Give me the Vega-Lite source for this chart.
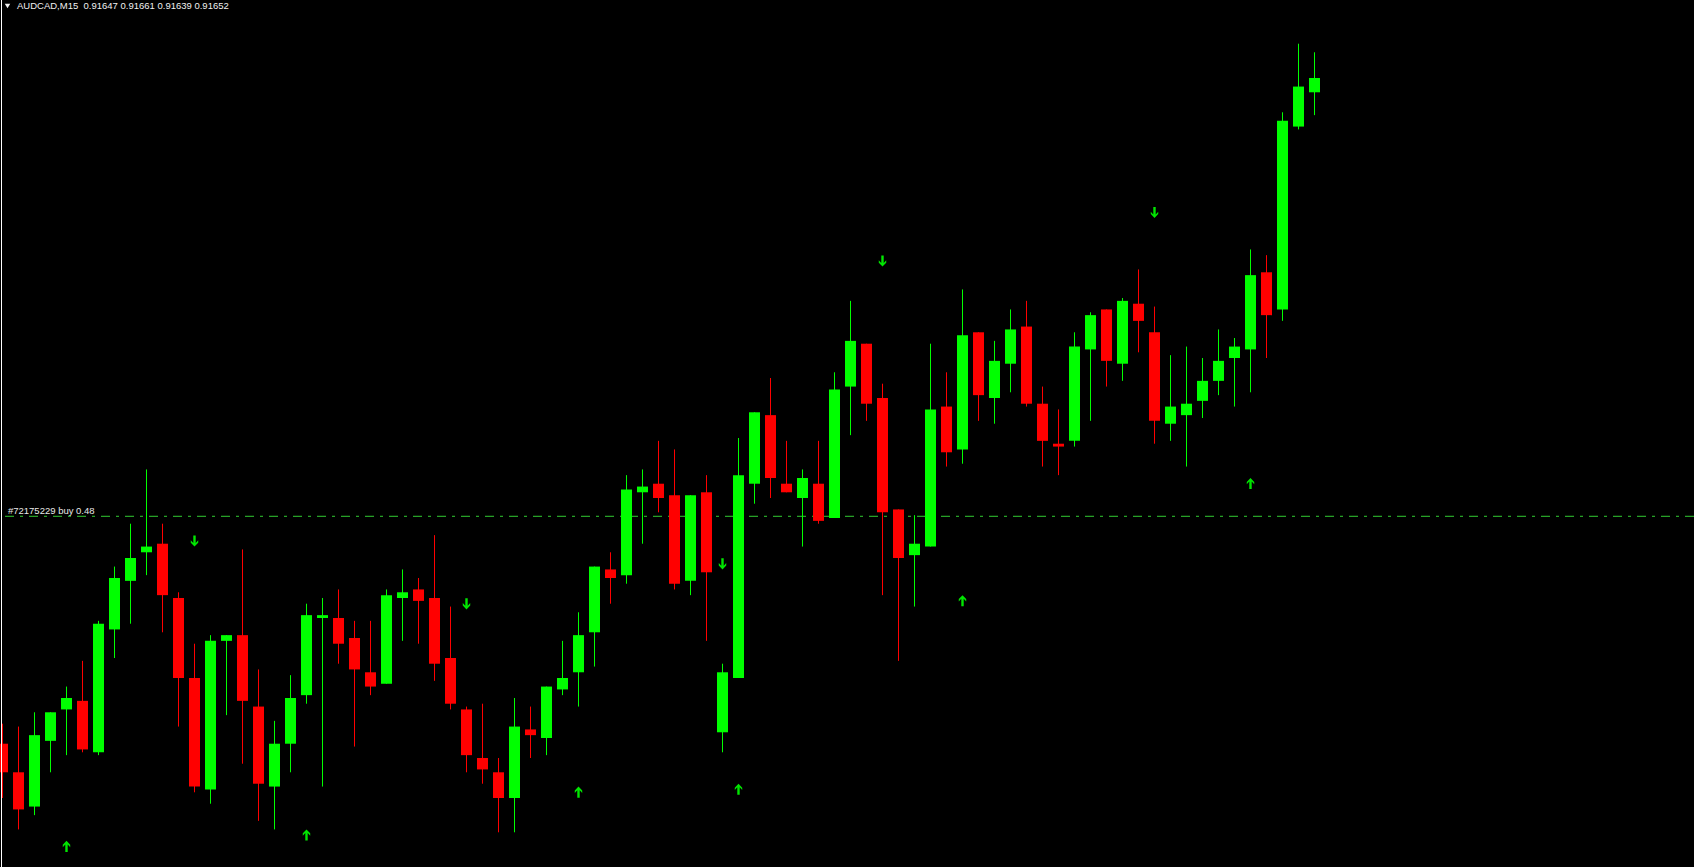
{
  "$schema": "https://vega.github.io/schema/vega-lite/v6.json",
  "width": 1694,
  "height": 867,
  "autosize": {"type": "none"},
  "padding": 0,
  "background": "#000000",
  "config": {"view": {"stroke": null}, "scale": {"continuousPadding": 0}},
  "datasets": {
    "candles": [
      {"bar":0,"open":0.91419,"high":0.91426,"low":0.91400,"close":0.91409},
      {"bar":1,"open":0.91409,"high":0.91425,"low":0.91389,"close":0.91396},
      {"bar":2,"open":0.91397,"high":0.91430,"low":0.91394,"close":0.91422},
      {"bar":3,"open":0.91420,"high":0.91430,"low":0.91409,"close":0.91430},
      {"bar":4,"open":0.91431,"high":0.91439,"low":0.91415,"close":0.91435},
      {"bar":5,"open":0.91434,"high":0.91448,"low":0.91416,"close":0.91417},
      {"bar":6,"open":0.91416,"high":0.91462,"low":0.91415,"close":0.91461},
      {"bar":7,"open":0.91459,"high":0.91481,"low":0.91449,"close":0.91477},
      {"bar":8,"open":0.91476,"high":0.91496,"low":0.91461,"close":0.91484},
      {"bar":9,"open":0.91486,"high":0.91515,"low":0.91478,"close":0.91488},
      {"bar":10,"open":0.91489,"high":0.91496,"low":0.91458,"close":0.91471},
      {"bar":11,"open":0.91470,"high":0.91472,"low":0.91425,"close":0.91442},
      {"bar":12,"open":0.91442,"high":0.91454,"low":0.91402,"close":0.91404},
      {"bar":13,"open":0.91403,"high":0.91457,"low":0.91398,"close":0.91455},
      {"bar":14,"open":0.91455,"high":0.91457,"low":0.91429,"close":0.91457},
      {"bar":15,"open":0.91457,"high":0.91487,"low":0.91412,"close":0.91434},
      {"bar":16,"open":0.91432,"high":0.91445,"low":0.91392,"close":0.91405},
      {"bar":17,"open":0.91404,"high":0.91427,"low":0.91389,"close":0.91419},
      {"bar":18,"open":0.91419,"high":0.91443,"low":0.91409,"close":0.91435},
      {"bar":19,"open":0.91436,"high":0.91468,"low":0.91433,"close":0.91464},
      {"bar":20,"open":0.91463,"high":0.91470,"low":0.91404,"close":0.91464},
      {"bar":21,"open":0.91463,"high":0.91473,"low":0.91447,"close":0.91454},
      {"bar":22,"open":0.91456,"high":0.91462,"low":0.91418,"close":0.91445},
      {"bar":23,"open":0.91444,"high":0.91462,"low":0.91436,"close":0.91439},
      {"bar":24,"open":0.91440,"high":0.91473,"low":0.91440,"close":0.91471},
      {"bar":25,"open":0.91470,"high":0.91480,"low":0.91455,"close":0.91472},
      {"bar":26,"open":0.91473,"high":0.91477,"low":0.91454,"close":0.91469},
      {"bar":27,"open":0.91470,"high":0.91492,"low":0.91441,"close":0.91447},
      {"bar":28,"open":0.91449,"high":0.91467,"low":0.91431,"close":0.91433},
      {"bar":29,"open":0.91431,"high":0.91432,"low":0.91409,"close":0.91415},
      {"bar":30,"open":0.91414,"high":0.91433,"low":0.91405,"close":0.91410},
      {"bar":31,"open":0.91409,"high":0.91414,"low":0.91388,"close":0.91400},
      {"bar":32,"open":0.91400,"high":0.91435,"low":0.91388,"close":0.91425},
      {"bar":33,"open":0.91424,"high":0.91432,"low":0.91414,"close":0.91422},
      {"bar":34,"open":0.91421,"high":0.91439,"low":0.91415,"close":0.91439},
      {"bar":35,"open":0.91438,"high":0.91455,"low":0.91436,"close":0.91442},
      {"bar":36,"open":0.91444,"high":0.91465,"low":0.91432,"close":0.91457},
      {"bar":37,"open":0.91458,"high":0.91481,"low":0.91446,"close":0.91481},
      {"bar":38,"open":0.91480,"high":0.91486,"low":0.91468,"close":0.91477},
      {"bar":39,"open":0.91478,"high":0.91513,"low":0.91475,"close":0.91508},
      {"bar":40,"open":0.91507,"high":0.91515,"low":0.91489,"close":0.91509},
      {"bar":41,"open":0.91510,"high":0.91525,"low":0.91500,"close":0.91505},
      {"bar":42,"open":0.91506,"high":0.91522,"low":0.91473,"close":0.91475},
      {"bar":43,"open":0.91476,"high":0.91506,"low":0.91471,"close":0.91506},
      {"bar":44,"open":0.91507,"high":0.91513,"low":0.91455,"close":0.91479},
      {"bar":45,"open":0.91423,"high":0.91447,"low":0.91416,"close":0.91444},
      {"bar":46,"open":0.91442,"high":0.91526,"low":0.91442,"close":0.91513},
      {"bar":47,"open":0.91510,"high":0.91535,"low":0.91503,"close":0.91535},
      {"bar":48,"open":0.91534,"high":0.91547,"low":0.91505,"close":0.91512},
      {"bar":49,"open":0.91510,"high":0.91525,"low":0.91507,"close":0.91507},
      {"bar":50,"open":0.91505,"high":0.91515,"low":0.91488,"close":0.91512},
      {"bar":51,"open":0.91510,"high":0.91525,"low":0.91496,"close":0.91497},
      {"bar":52,"open":0.91498,"high":0.91549,"low":0.91498,"close":0.91543},
      {"bar":53,"open":0.91544,"high":0.91574,"low":0.91527,"close":0.91560},
      {"bar":54,"open":0.91559,"high":0.91559,"low":0.91532,"close":0.91538},
      {"bar":55,"open":0.91540,"high":0.91545,"low":0.91471,"close":0.91500},
      {"bar":56,"open":0.91501,"high":0.91501,"low":0.91448,"close":0.91484},
      {"bar":57,"open":0.91485,"high":0.91499,"low":0.91467,"close":0.91489},
      {"bar":58,"open":0.91488,"high":0.91559,"low":0.91488,"close":0.91536},
      {"bar":59,"open":0.91537,"high":0.91549,"low":0.91516,"close":0.91521},
      {"bar":60,"open":0.91522,"high":0.91578,"low":0.91517,"close":0.91562},
      {"bar":61,"open":0.91563,"high":0.91563,"low":0.91532,"close":0.91541},
      {"bar":62,"open":0.91540,"high":0.91560,"low":0.91531,"close":0.91553},
      {"bar":63,"open":0.91552,"high":0.91571,"low":0.91542,"close":0.91564},
      {"bar":64,"open":0.91565,"high":0.91574,"low":0.91537,"close":0.91538},
      {"bar":65,"open":0.91538,"high":0.91544,"low":0.91516,"close":0.91525},
      {"bar":66,"open":0.91524,"high":0.91536,"low":0.91513,"close":0.91523},
      {"bar":67,"open":0.91525,"high":0.91563,"low":0.91523,"close":0.91558},
      {"bar":68,"open":0.91557,"high":0.91570,"low":0.91532,"close":0.91569},
      {"bar":69,"open":0.91571,"high":0.91571,"low":0.91544,"close":0.91553},
      {"bar":70,"open":0.91552,"high":0.91575,"low":0.91546,"close":0.91574},
      {"bar":71,"open":0.91573,"high":0.91585,"low":0.91556,"close":0.91567},
      {"bar":72,"open":0.91563,"high":0.91572,"low":0.91524,"close":0.91532},
      {"bar":73,"open":0.91531,"high":0.91555,"low":0.91525,"close":0.91537},
      {"bar":74,"open":0.91534,"high":0.91558,"low":0.91516,"close":0.91538},
      {"bar":75,"open":0.91539,"high":0.91554,"low":0.91533,"close":0.91546},
      {"bar":76,"open":0.91546,"high":0.91564,"low":0.91541,"close":0.91553},
      {"bar":77,"open":0.91554,"high":0.91561,"low":0.91537,"close":0.91558},
      {"bar":78,"open":0.91557,"high":0.91592,"low":0.91542,"close":0.91583},
      {"bar":79,"open":0.91584,"high":0.91590,"low":0.91554,"close":0.91569},
      {"bar":80,"open":0.91571,"high":0.91640,"low":0.91567,"close":0.91637},
      {"bar":81,"open":0.91635,"high":0.91664,"low":0.91634,"close":0.91649},
      {"bar":82,"open":0.91647,"high":0.91661,"low":0.91639,"close":0.91652}
    ],
    "signals": [
      {"bar":4,"price":0.91383,"type":"buy"},
      {"bar":19,"price":0.91387,"type":"buy"},
      {"bar":36,"price":0.91402,"type":"buy"},
      {"bar":46,"price":0.91403,"type":"buy"},
      {"bar":60,"price":0.91469,"type":"buy"},
      {"bar":78,"price":0.91510,"type":"buy"},
      {"bar":12,"price":0.91490,"type":"sell"},
      {"bar":29,"price":0.91468,"type":"sell"},
      {"bar":45,"price":0.91482,"type":"sell"},
      {"bar":55,"price":0.91588,"type":"sell"},
      {"bar":72,"price":0.91605,"type":"sell"}
    ],
    "orders": [
      {"price":0.914986,"label":"#72175229 buy 0.48"}
    ],
    "header": [
      {"text":"AUDCAD,M15\u00a0 0.91647 0.91661 0.91639 0.91652"}
    ]
  },
  "layer": [
    {
      "data": {"name": "orders"},
      "mark": {"type": "rule", "stroke": "#32cd32", "strokeWidth": 1, "strokeDash": [9, 6, 3, 6]},
      "encoding": {
        "y": {"field": "price", "type": "quantitative", "scale": {"domain": [0.9137585, 0.916793], "nice": false, "zero": false, "padding": 0}, "axis": null}
      }
    },
    {
      "data": {"name": "candles"},
      "mark": {"type": "rule", "strokeWidth": 1},
      "encoding": {
        "x": {"field": "bar", "type": "quantitative", "scale": {"domain": [-0.15625, 105.71875], "nice": false, "zero": false, "padding": 0}, "axis": null},
        "y": {"field": "low", "type": "quantitative", "scale": {"domain": [0.9137585, 0.916793], "nice": false, "zero": false, "padding": 0}, "axis": null},
        "y2": {"field": "high"},
        "color": {"condition": {"test": "datum.close >= datum.open", "value": "#00ff00"}, "value": "#ff0000"}
      }
    },
    {
      "data": {"name": "candles"},
      "mark": {"type": "bar", "size": 11},
      "encoding": {
        "x": {"field": "bar", "type": "quantitative", "scale": {"domain": [-0.15625, 105.71875], "nice": false, "zero": false, "padding": 0}, "axis": null},
        "y": {"field": "open", "type": "quantitative", "scale": {"domain": [0.9137585, 0.916793], "nice": false, "zero": false, "padding": 0}, "axis": null},
        "y2": {"field": "close"},
        "color": {"condition": {"test": "datum.close >= datum.open", "value": "#00ff00"}, "value": "#ff0000"}
      }
    },
    {
      "data": {"name": "signals"},
      "mark": {"type": "point", "filled": true, "size": 144, "opacity": 1, "color": "#00e600"},
      "encoding": {
        "x": {"field": "bar", "type": "quantitative", "scale": {"domain": [-0.15625, 105.71875], "nice": false, "zero": false, "padding": 0}, "axis": null},
        "y": {"field": "price", "type": "quantitative", "scale": {"domain": [0.9137585, 0.916793], "nice": false, "zero": false, "padding": 0}, "axis": null},
        "shape": {"field": "type", "type": "nominal", "legend": null, "scale": {"domain": ["buy", "sell"], "range": ["M0,-0.95L0.62,-0.3L0.62,0.1L0.2,-0.36L0.2,0.9L-0.2,0.9L-0.2,-0.36L-0.62,0.1L-0.62,-0.3Z", "M0,0.95L0.62,0.3L0.62,-0.1L0.2,0.36L0.2,-0.9L-0.2,-0.9L-0.2,0.36L-0.62,-0.1L-0.62,0.3Z"]}}
      }
    },
    {
      "data": {"name": "orders"},
      "mark": {"type": "text", "align": "left", "baseline": "alphabetic", "dy": -2, "font": "Liberation Sans", "fontSize": 9.5, "color": "#e8e8e8"},
      "encoding": {
        "x": {"datum": 0.34, "type": "quantitative", "scale": {"domain": [-0.15625, 105.71875], "nice": false, "zero": false, "padding": 0}, "axis": null},
        "y": {"field": "price", "type": "quantitative", "scale": {"domain": [0.9137585, 0.916793], "nice": false, "zero": false, "padding": 0}, "axis": null},
        "text": {"field": "label"}
      }
    },
    {
      "data": {"name": "header"},
      "mark": {"type": "text", "align": "left", "baseline": "alphabetic", "font": "Liberation Sans", "fontSize": 9.5, "color": "#f0f0f0"},
      "encoding": {
        "x": {"datum": 0.906, "type": "quantitative", "scale": {"domain": [-0.15625, 105.71875], "nice": false, "zero": false, "padding": 0}, "axis": null},
        "y": {"datum": 0.91676, "type": "quantitative", "scale": {"domain": [0.9137585, 0.916793], "nice": false, "zero": false, "padding": 0}, "axis": null},
        "text": {"field": "text"}
      }
    },
    {
      "data": {"values": [{}]},
      "mark": {"type": "point", "shape": "triangle-down", "filled": true, "size": 30, "opacity": 1, "color": "#f0f0f0"},
      "encoding": {
        "x": {"datum": 0.3125, "type": "quantitative", "scale": {"domain": [-0.15625, 105.71875], "nice": false, "zero": false, "padding": 0}, "axis": null},
        "y": {"datum": 0.916772, "type": "quantitative", "scale": {"domain": [0.9137585, 0.916793], "nice": false, "zero": false, "padding": 0}, "axis": null}
      }
    },
    {
      "data": {"values": [{}]},
      "mark": {"type": "rule", "stroke": "#ffffff", "strokeWidth": 1},
      "encoding": {
        "x": {"datum": -0.0625, "type": "quantitative", "scale": {"domain": [-0.15625, 105.71875], "nice": false, "zero": false, "padding": 0}, "axis": null}
      }
    }
  ]
}
